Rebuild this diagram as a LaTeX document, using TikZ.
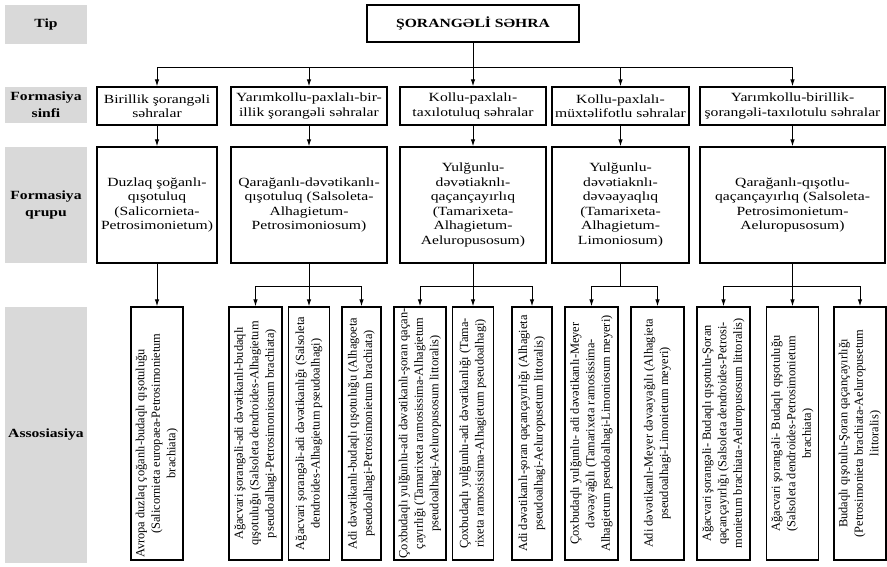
\documentclass[tikz,border=0pt]{standalone}
\usepackage{fontspec}
\setmainfont{Liberation Serif}[FakeStretch=1.25]
\newfontfamily\assocfont{Liberation Serif}
\usetikzlibrary{arrows.meta,positioning}
\definecolor{labelGray}{RGB}{217,217,217}

\begin{document}
\begin{tikzpicture}[x=1pt,y=-1pt,
      lvl/.style={fill=labelGray,minimum width=82pt,inner sep=1pt,align=center,font=\fontsize{12.5}{17}\selectfont\bfseries},
      box/.style={draw,line width=1.3pt,inner sep=1pt,align=center,font=\fontsize{12.5}{14.5}\selectfont},
      assoc/.style={draw,line width=1.3pt,inner sep=1pt,align=center,rotate=90,minimum width=253pt,font=\assocfont\fontsize{12.4}{15.5}\selectfont},
      arr/.style={-{Latex[length=7pt,width=4.5pt]},line width=1pt}
    ]
    \useasboundingbox (0,0) rectangle (887,566);
    % row labels
    \node[lvl,minimum height=39pt] (tip) at (46,24.5) {Tip};
    \node[lvl,minimum height=36pt] (sinfi) at (46,105) {Formasiya\\sinfi};
    \node[lvl,minimum height=116pt] (qrupu) at (46,205) {Formasiya\\qrupu};
    \node[lvl,minimum height=256pt] (assos) at (46,435) {Assosiasiya};
    % type
    \node[box,font=\fontsize{12.5}{14.5}\selectfont\bfseries,minimum width=212pt,minimum height=37pt] (root) at (473,23.5) {ŞORANGƏLİ SƏHRA};
    % formation classes
    \node[box,minimum width=120pt,minimum height=38pt] (c1) at (157,106) {Birillik şorangəli\\səhralar};
    \node[box,minimum width=156pt,minimum height=38pt] (c2) at (309,106) {Yarımkollu-paxlalı-bir-\\illik şorangəli səhralar};
    \node[box,minimum width=146pt,minimum height=38pt] (c3) at (473,106) {Kollu-paxlalı-\\taxılotuluq səhralar};
    \node[box,minimum width=137pt,minimum height=38pt] (c4) at (620.5,106) {Kollu-paxlalı-\\müxtəlifotlu səhralar};
    \node[box,minimum width=185pt,minimum height=38pt] (c5) at (792.5,106) {Yarımkollu-birillik-\\şorangəli-taxılotulu səhralar};
    % formation groups
    \node[box,minimum width=120pt,minimum height=116pt] (q1) at (157,205) {Duzlaq şoğanlı-\\qışotuluq\\(Salicornieta-\\Petrosimonietum)};
    \node[box,minimum width=156pt,minimum height=116pt] (q2) at (309,205) {Qarağanlı-dəvətikanlı-\\qışotuluq (Salsoleta-\\Alhagietum-\\Petrosimoniosum)};
    \node[box,minimum width=146pt,minimum height=116pt] (q3) at (473,205) {Yulğunlu-\\dəvətiaknlı-\\qaçançayırlıq\\(Tamarixeta-\\Alhagietum-\\Aeluropusosum)};
    \node[box,minimum width=137pt,minimum height=116pt] (q4) at (620.5,205) {Yulğunlu-\\dəvətiaknlı-\\dəvəayaqlıq\\(Tamarixeta-\\Alhagietum-\\Limoniosum)};
    \node[box,minimum width=185pt,minimum height=116pt] (q5) at (792.5,205) {Qarağanlı-qışotlu-\\qaçançayırlıq (Salsoleta-\\Petrosimonietum-\\Aeluropusosum)};
    % associations
    \node[assoc,minimum height=52pt] (a1) at (157,433.5) {Avropa duzlaq çoğanlı-budaqlı qışotuluğu\hspace*{40pt}\\(Salicornieta europaea-Petrosimonietum\hspace*{40pt}\\brachiata)\hspace*{40pt}};
    \node[assoc,minimum height=53pt] (a2) at (255.5,433.5) {Ağacvari şorangəli-adi dəvətikanlı-budaqlı\\qışotuluğu (Salsoleta dendroides-Alhagietum\\pseudoalhagi-Petrosimoniosum brachiata)};
    \node[assoc,minimum height=41pt] (a3) at (309,433.5) {Ağacvari şorangəli-adi dəvətikanlığı (Salsoleta\\dendroides-Alhagietum pseudoalhagi)};
    \node[assoc,minimum height=39pt] (a4) at (361.5,433.5) {Adi dəvətikanlı-budaqlı qışotuluğu (Alhagoeta\\pseudoalhagi-Petrosimonietum brachiata)};
    \node[assoc,minimum height=52pt] (a5) at (420,433.5) {Çoxbudaqlı yulğunlu-adi dəvətikanlı-şoran qaçan-\\çayırlığı (Tamarixeta ramosissima-Alhagietum\\pseudoalhagi-Aeluropusosum littoralis)};
    \node[assoc,minimum height=41pt] (a6) at (473,433.5) {Çoxbudaqlı yulğunlu-adi dəvətikanlığı (Tama-\\rixeta ramosissima-Alhagietum pseudoalhagi)};
    \node[assoc,minimum height=40pt] (a7) at (532,433.5) {Adi dəvətikanlı-şoran qaçançayırlığı (Alhagieta\\pseudoalhagi-Aeluropusetum littoralis)};
    \node[assoc,minimum height=53pt] (a8) at (591.5,433.5) {Çoxbudaqlı yulğunlu- adi dəvətikanlı-Meyer\\dəvəayağılı (Tamarixeta ramosissima-\\Alhagietum pseudoalhagi-Limoniosum meyeri)};
    \node[assoc,minimum height=53pt] (a9) at (657.5,433.5) {Adi dəvətikanlı-Meyer dəvəayağılı (Alhagieta\\pseudoalhagi-Limonietum meyeri)};
    \node[assoc,minimum height=53pt] (a10) at (723.5,433.5) {Ağacvari şorangəli- Budaqlı qışotulu-Şoran\\qaçançayırlığı (Salsoleta dendroides-Petrosi-\\monietum brachiata-Aeluropusosum littoralis)};
    \node[assoc,minimum height=52pt] (a11) at (792.5,433.5) {Ağacvari şorangəli- Budaqlı qışotuluğu\\(Salsoleta dendroides-Petrosimonietum\\brachiata)};
    \node[assoc,minimum height=52pt] (a12) at (860,433.5) {Budaqlı qışotulu-Şoran qaçançayırlığı\\(Petrosimonieta brachiata-Aeluropusetum\\littoralis)};
    % connectors
    \coordinate (rootJ) at (root.south |- 0,67);
    \draw[line width=1pt] (root) -- (rootJ);
    \foreach \n in {c1,c2,c3,c4,c5}
      \draw[arr] (rootJ) -| (\n);
    \foreach \i in {1,...,5}
      \draw[arr] (c\i) -- (q\i);
    \draw[arr] (q1) -- (a1);
    \coordinate (j2) at (q2.south |- 0,286);
    \coordinate (j3) at (q3.south |- 0,286);
    \coordinate (j4) at (q4.south |- 0,286);
    \coordinate (j5) at (q5.south |- 0,286);
    \draw[line width=1pt] (q2) -- (j2);
    \draw[line width=1pt] (q3) -- (j3);
    \draw[line width=1pt] (q4) -- (j4);
    \draw[line width=1pt] (q5) -- (j5);
    \foreach \n in {a2,a3,a4} \draw[arr] (j2) -| (\n);
    \foreach \n in {a5,a6,a7} \draw[arr] (j3) -| (\n);
    \foreach \n in {a8,a9} \draw[arr] (j4) -| (\n);
    \foreach \n in {a10,a11,a12} \draw[arr] (j5) -| (\n);
  \end{tikzpicture}
\end{document}
